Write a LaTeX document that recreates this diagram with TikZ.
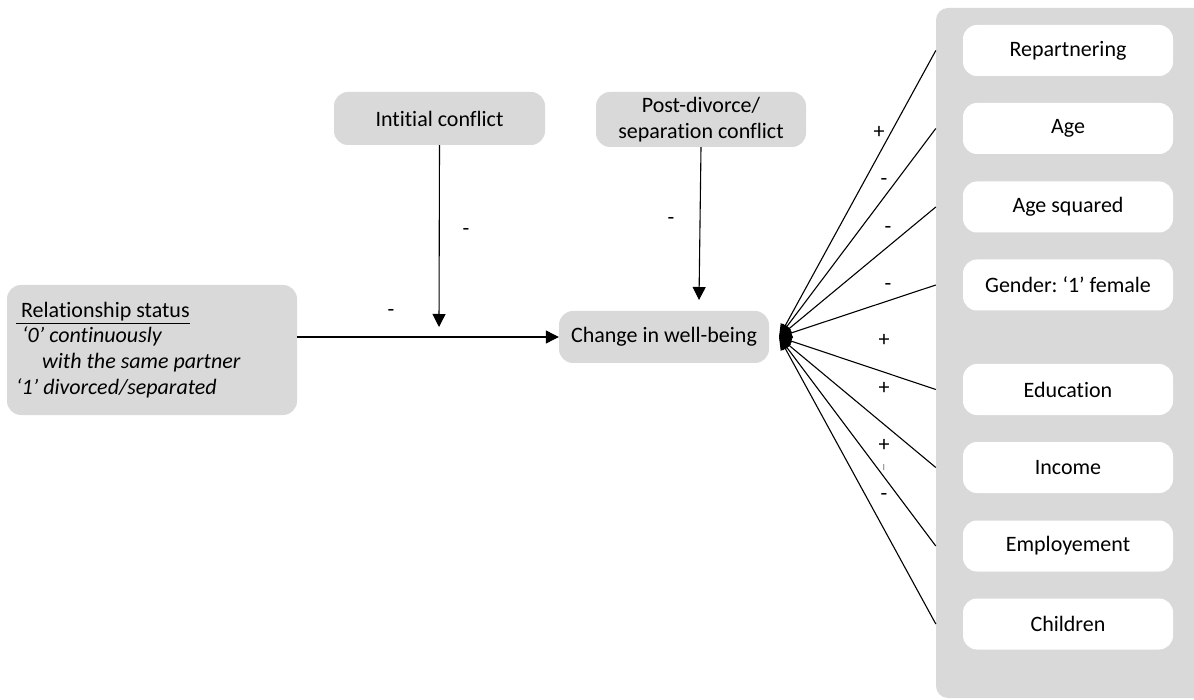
\documentclass[tikz,border=0pt]{standalone}
\usepackage{fontspec}
\setmainfont[RawFeature=-liga]{Carlito}
\usetikzlibrary{arrows.meta}
\definecolor{boxgray}{HTML}{D9D9D9}
\begin{document}
\frenchspacing
\begin{tikzpicture}[x=1pt,y=-1pt,
  font=\fontsize{22}{26}\selectfont,
  graybox/.style={fill=boxgray, rounded corners=14pt, inner sep=0pt, align=center},
  whitebox/.style={fill=white, rounded corners=14pt, inner sep=0pt, minimum width=210pt, minimum height=51pt},
  conn/.style={line width=1.1pt, -{Triangle[length=13pt,width=13pt]}},
  fan/.style={line width=1.1pt, -{Triangle[length=13pt,width=10pt]}},
  sign/.style={inner sep=0pt}]
\useasboundingbox (0,0) rectangle (1194,700);

% gray panel
\node[graybox, rounded corners=12pt, minimum width=280pt, minimum height=690pt] (panel) at (1076,353) {};

% main nodes
\node[graybox, minimum width=290pt, minimum height=130pt] (rel) at (152,350) {};
\node[anchor=base west, inner sep=0pt] (relt1) at (16,318) {\underline{\ Relationship status}};
\node[anchor=base west, inner sep=0pt] (relt2) at (17,343) {\itshape \ `0' continuously};
\node[anchor=base west, inner sep=0pt] (relt3) at (42,369) {\itshape with the same partner};
\node[anchor=base west, inner sep=0pt] (relt4) at (16,395) {\itshape `1' divorced/separated};

\node[graybox, minimum width=211pt, minimum height=53pt] (ic) at (439.5,118.5) {Intitial conflict};
\node[graybox, minimum width=210pt, minimum height=55pt] (pd) at (701,119.5) {Post-divorce/\\separation conflict};
\node[graybox, minimum width=210pt, minimum height=52pt] (cw) at (664,337) {Change in well-being};

% right boxes
\node[whitebox] (rep) at (1068,50.5) {Repartnering};
\node[whitebox] (age) at (1068,128.5) {Age};
\node[whitebox] (agesq) at (1068,207) {Age squared};
\node[whitebox] (gen) at (1068,285) {Gender: `1' female};
\node[whitebox] (edu) at (1068,389.5) {Education};
\node[whitebox] (inc) at (1068,467.5) {Income};
\node[whitebox] (emp) at (1068,546) {Employement};
\node[whitebox] (chi) at (1068,624) {Children};

% coordinates
\coordinate (icend) at (439,327);
\coordinate (pdend) at (699,300);
\coordinate (tip) at (779,337);

% connectors
\draw[conn] (rel.east |- 0,337) -- (cw.west);
\draw[conn] (ic.south) -- (icend);
\draw[conn] (pd.south) -- (pdend);
\foreach \n in {rep,age,agesq,gen,edu,inc,emp,chi}
  \draw[fan] (panel.west |- \n) -- (tip);

% signs
\node[sign] (s1) at (391,313) {-};
\node[sign] (s2) at (466,232) {-};
\node[sign] (s3) at (671,221) {-};
\node[sign] (f1) at (879,132) {+};
\node[sign] (f2) at (884,182) {-};
\node[sign] (f3) at (888,230) {-};
\node[sign] (f4) at (888,287) {-};
\node[sign] (f5) at (884,340) {+};
\node[sign] (f6) at (884,388) {+};
\node[sign] (f7) at (884,445) {+};
\node[sign] (f8) at (884,468) {\fontsize{7}{7}\selectfont |};
\node[sign] (f9) at (884,497) {-};
\end{tikzpicture}
\end{document}
